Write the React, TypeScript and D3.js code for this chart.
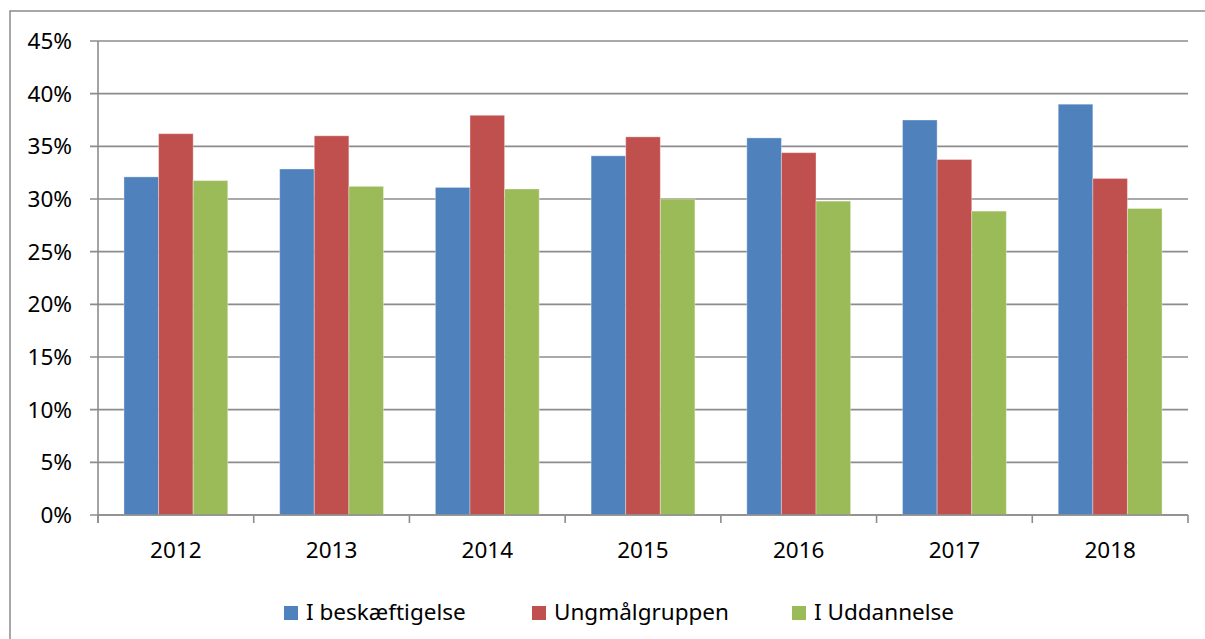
import { useEffect, useRef } from "react";
import * as d3 from "d3";

const years = ["2012", "2013", "2014", "2015", "2016", "2017", "2018"];
const seriesNames = ["I beskæftigelse", "Ungmålgruppen", "I Uddannelse"];
const beskaeftigelse = [32.1, 32.85, 31.1, 34.1, 35.8, 37.5, 39.0];
const ungmaalgruppen = [36.2, 36.0, 37.95, 35.9, 34.4, 33.75, 31.95];
const uddannelse = [31.75, 31.2, 30.95, 30.0, 29.8, 28.85, 29.1];
const yTicks = [0, 5, 10, 15, 20, 25, 30, 35, 40, 45];
const colors = ["#4F81BD", "#C0504D", "#9BBB59"];

const W = 1205;
const H = 639;
const M = { top: 41, right: 17, bottom: 124, left: 98 };
const FONT = "'Noto Sans', sans-serif";
const FS = 22.5;

export default function App() {
  const svgRef = useRef<SVGSVGElement>(null);

  useEffect(() => {
    const svg = d3.select(svgRef.current);
    svg.selectAll("*").remove();

    const innerW = W - M.left - M.right;
    const innerH = H - M.top - M.bottom;
    const values = [beskaeftigelse, ungmaalgruppen, uddannelse];

    // outer frame (runs off the right and bottom edges like the source)
    svg
      .append("rect")
      .attr("x", 10)
      .attr("y", 11)
      .attr("width", W + 20)
      .attr("height", H + 20)
      .attr("fill", "#fff")
      .attr("stroke", "#8a8a8a")
      .attr("stroke-width", 1.5);

    const g = svg.append("g").attr("transform", `translate(${M.left},${M.top})`);

    const x0 = d3.scaleBand<string>().domain(years).range([0, innerW]).padding(0);
    const groupW = (x0.bandwidth() * 3) / 4.5;
    const x1 = d3
      .scaleBand<number>()
      .domain([0, 1, 2])
      .range([(x0.bandwidth() - groupW) / 2, (x0.bandwidth() + groupW) / 2]);
    const y = d3.scaleLinear().domain([0, 45]).range([innerH, 0]);

    // gridlines with tick stubs to the left
    g.append("g")
      .selectAll("line")
      .data(yTicks)
      .join("line")
      .attr("x1", -8)
      .attr("x2", innerW)
      .attr("y1", (d) => y(d))
      .attr("y2", (d) => y(d))
      .attr("stroke", "#8c8c8c")
      .attr("stroke-width", 1.6);

    g.append("g")
      .selectAll("text")
      .data(yTicks)
      .join("text")
      .attr("x", -26)
      .attr("y", (d) => y(d))
      .attr("dy", "0.36em")
      .attr("text-anchor", "end")
      .attr("font-family", FONT)
      .attr("font-size", FS)
      .attr("fill", "#000")
      .text((d) => `${d}%`);

    // bars
    const groups = g
      .append("g")
      .selectAll("g")
      .data(years)
      .join("g")
      .attr("transform", (d) => `translate(${x0(d)},0)`);

    groups
      .selectAll("rect")
      .data((_, i) => values.map((s, k) => ({ k, v: s[i] })))
      .join("rect")
      .attr("x", (d) => x1(d.k)!)
      .attr("width", x1.bandwidth())
      .attr("y", (d) => y(d.v))
      .attr("height", (d) => innerH - y(d.v))
      .attr("fill", (d) => colors[d.k])
      .attr("stroke", "rgba(255,255,255,0.35)")
      .attr("stroke-width", 1);

    // y axis line
    g.append("line")
      .attr("x1", 0)
      .attr("x2", 0)
      .attr("y1", 0)
      .attr("y2", innerH + 8)
      .attr("stroke", "#8c8c8c")
      .attr("stroke-width", 1.6);

    // x axis baseline and category ticks
    g.append("line")
      .attr("x1", 0)
      .attr("x2", innerW)
      .attr("y1", innerH)
      .attr("y2", innerH)
      .attr("stroke", "#8c8c8c")
      .attr("stroke-width", 1.6);

    const boundaries = years.map((d) => x0(d)!).concat([innerW]);
    g.append("g")
      .selectAll("line")
      .data(boundaries)
      .join("line")
      .attr("x1", (d) => d)
      .attr("x2", (d) => d)
      .attr("y1", innerH)
      .attr("y2", innerH + 8)
      .attr("stroke", "#8c8c8c")
      .attr("stroke-width", 1.6);

    g.append("g")
      .selectAll("text")
      .data(years)
      .join("text")
      .attr("x", (d) => x0(d)! + x0.bandwidth() / 2)
      .attr("y", innerH + 43)
      .attr("text-anchor", "middle")
      .attr("font-family", FONT)
      .attr("font-size", FS)
      .attr("fill", "#000")
      .text((d) => d);

    // legend
    const legendX = [284, 532, 792];
    const leg = svg
      .append("g")
      .selectAll("g")
      .data(seriesNames)
      .join("g")
      .attr("transform", (_, i) => `translate(${legendX[i]},606)`);
    leg
      .append("rect")
      .attr("width", 14)
      .attr("height", 14)
      .attr("fill", (_, i) => colors[i]);
    leg
      .append("text")
      .attr("x", 22)
      .attr("y", 13.5)
      .attr("font-family", FONT)
      .attr("font-size", FS)
      .attr("fill", "#000")
      .text((d) => d);
  }, []);

  return (
    <div style={{ position: "absolute", left: 0, top: 0 }}>
      <svg ref={svgRef} width={W} height={H} style={{ display: "block" }} />
    </div>
  );
}
